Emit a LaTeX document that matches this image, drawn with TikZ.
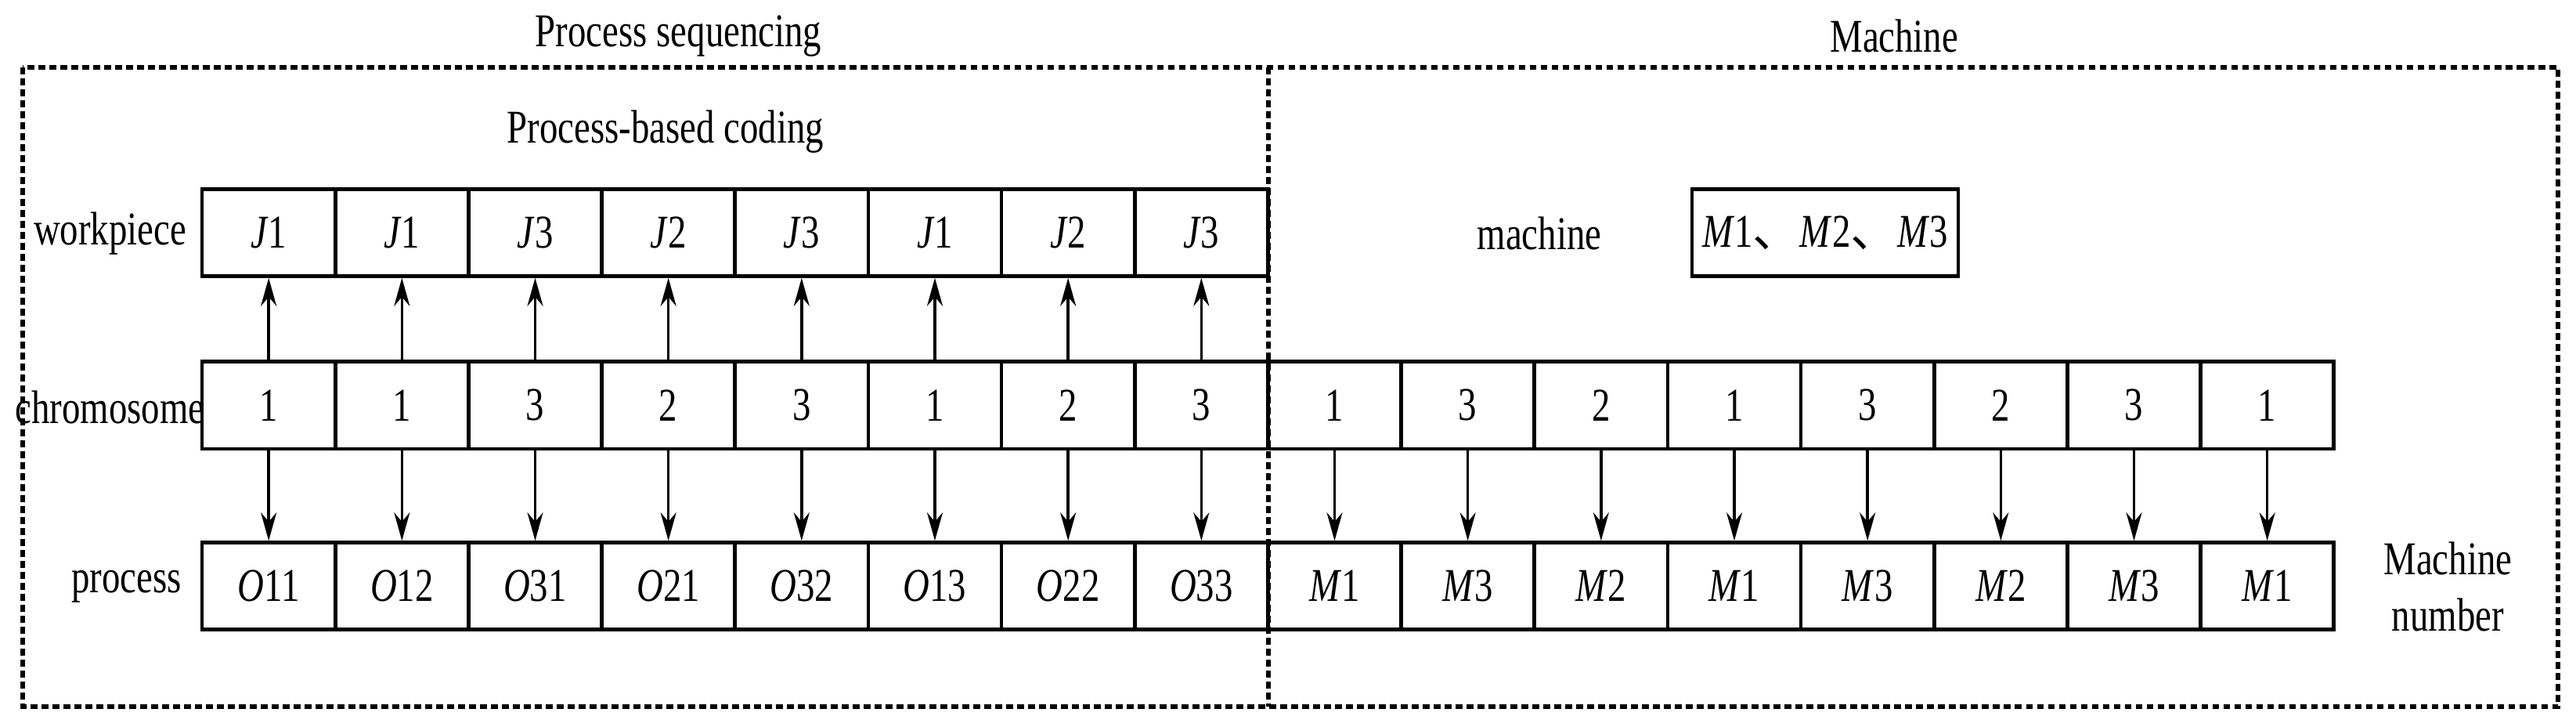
\documentclass[tikz,border=0pt]{standalone}
\usepackage{fontspec}
\setmainfont[FakeStretch=0.78]{Liberation Serif}
\newfontfamily\cjk{Noto Sans CJK SC}
\usetikzlibrary{arrows.meta}
\begin{document}
\begin{tikzpicture}[x=0.5245pt,y=-0.5245pt,font=\fontsize{15}{17}\selectfont,
  cell/.style={draw,line width=1.1pt,minimum width=42.5pt,minimum height=27.8pt,inner sep=0pt,anchor=center},
  lab/.style={inner sep=0pt,anchor=center},
  arr/.style={line width=0.9pt,-{Stealth[length=9pt,width=5pt]}},
  frame/.style={line width=1.5pt,dash pattern=on 2.2pt off 1.3pt}]
\useasboundingbox (0,0) rectangle (1568,442);
\draw[frame] (14,41) rectangle (1557,430);
\draw[frame] (772,41) -- (772,430);
\node[lab] (t1) at (413,22) {Process sequencing};
\node[lab] (t2) at (1153,22) {Machine};
\node[lab] (t3) at (405,80) {Process-based coding};
\node[lab] (lw) at (67,142) {workpiece};
\node[lab] (lc) at (67,248) {chromosome};
\node[lab] (lp) at (77,357) {process};
\node[lab] (lm) at (937,142) {machine};
\node[cell,minimum width=85pt] (mb) at (1111,141.5) {\textit{M}1{\cjk 、}\textit{M}2{\cjk 、}\textit{M}3};
\node[lab,align=center] (mn) at (1490,357) {Machine\\[1pt]number};
\foreach \t [count=\i] in {J1,J1,J3,J2,J3,J1,J2,J3}{
  \node[cell] (w\i) at ({123+81.1*(\i-0.5)},141.5) {\expandafter\textit\t};
}
\foreach \t [count=\i] in {1,1,3,2,3,1,2,3,1,3,2,1,3,2,3,1}{
  \node[cell] (c\i) at ({123+81.1*(\i-0.5)},246.5) {\t};
}
\foreach \a/\b [count=\i] in {O/11,O/12,O/31,O/21,O/32,O/13,O/22,O/33,M/1,M/3,M/2,M/1,M/3,M/2,M/3,M/1}{
  \node[cell] (p\i) at ({123+81.1*(\i-0.5)},356.5) {\textit{\a}\b};
}
\foreach \i in {1,...,8}{ \draw[arr] (c\i.north) -- (w\i.south); }
\foreach \i in {1,...,16}{ \draw[arr] (c\i.south) -- (p\i.north); }
\end{tikzpicture}
\end{document}
